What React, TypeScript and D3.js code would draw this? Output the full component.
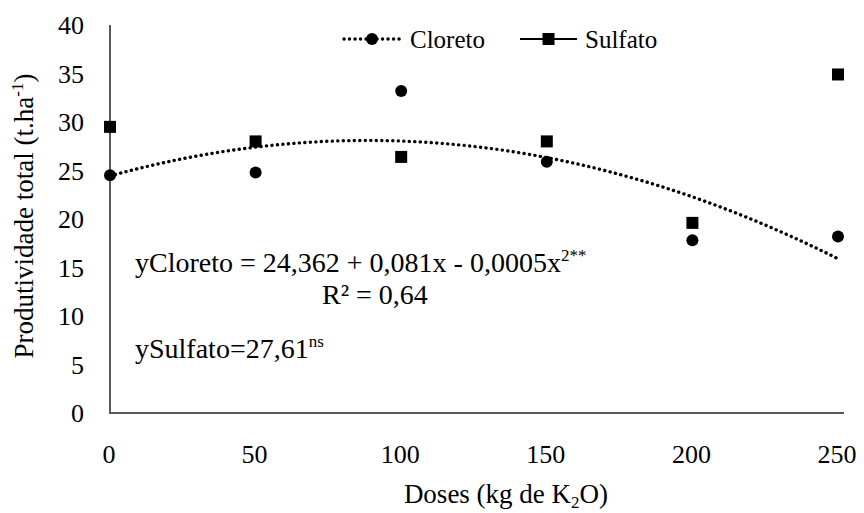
import React, { useEffect, useRef } from 'react'
import * as d3 from 'd3'

const doses = [0, 50, 100, 150, 200, 250]
const cloreto = [24.5, 24.8, 33.2, 25.9, 17.8, 18.2]
const sulfato = [29.5, 28.0, 26.4, 28.0, 19.6, 34.9]
const yTicks = [0, 5, 10, 15, 20, 25, 30, 35, 40]

const width = 864
const height = 513
const margin = { top: 25, right: 26, bottom: 100, left: 110 }
const font = '"Liberation Serif", "Times New Roman", Times, serif'

// least squares quadratic fit (same as the excel trendline)
const quadFit = (xs: number[], ys: number[]) => {
    const s = (f: (x: number, y: number) => number) => d3.sum(xs, (x, i) => f(x, ys[i]))
    const n = xs.length
    const sx = s(x => x), sx2 = s(x => x * x), sx3 = s(x => x ** 3), sx4 = s(x => x ** 4)
    const sy = s((x, y) => y), sxy = s((x, y) => x * y), sx2y = s((x, y) => x * x * y)
    const m = [
        [n, sx, sx2, sy],
        [sx, sx2, sx3, sxy],
        [sx2, sx3, sx4, sx2y]
    ]
    for (let i = 0; i < 3; i++) {
        for (let k = i + 1; k < 3; k++) {
            const f = m[k][i] / m[i][i]
            for (let j = i; j < 4; j++) m[k][j] -= f * m[i][j]
        }
    }
    const c = m[2][3] / m[2][2]
    const b = (m[1][3] - m[1][2] * c) / m[1][1]
    const a = (m[0][3] - m[0][1] * b - m[0][2] * c) / m[0][0]
    return (x: number) => a + b * x + c * x * x
}

export default function App() {
    const svgNode = useRef<SVGSVGElement>(null)

    useEffect(() => {
        const svg = d3.select(svgNode.current)
        svg.selectAll('*').remove()

        const x = d3.scaleLinear().domain([0, 250]).range([margin.left, width - margin.right])
        const y = d3.scaleLinear().domain([0, 40]).range([height - margin.bottom, margin.top])

        const axisColor = '#595959'
        // axes lines
        svg.append('line')
            .attr('x1', x(0)).attr('x2', x(0))
            .attr('y1', y(40)).attr('y2', y(0))
            .attr('stroke', axisColor).attr('stroke-width', 2)
        svg.append('line')
            .attr('x1', x(0) - 1).attr('x2', x(250) + 6)
            .attr('y1', y(0)).attr('y2', y(0))
            .attr('stroke', axisColor).attr('stroke-width', 2)

        svg.selectAll('.ytick')
            .data(yTicks)
            .join('text')
            .attr('class', 'ytick')
            .attr('x', 84)
            .attr('y', d => y(d))
            .attr('dy', '0.36em')
            .attr('text-anchor', 'end')
            .attr('font-size', 26)
            .text(d => d)

        svg.selectAll('.xtick')
            .data(doses)
            .join('text')
            .attr('class', 'xtick')
            .attr('x', d => x(d) - 1)
            .attr('y', 463)
            .attr('text-anchor', 'middle')
            .attr('font-size', 26)
            .text(d => d)

        // axis titles
        const xt = svg.append('text')
            .attr('x', 506)
            .attr('y', 503)
            .attr('text-anchor', 'middle')
            .attr('font-size', 27)
        xt.append('tspan').text('Doses (kg  de K')
        xt.append('tspan').attr('font-size', 17).attr('dy', 5).text('2')
        xt.append('tspan').attr('dy', -5).text('O)')

        const yt = svg.append('text')
            .attr('transform', `translate(33, 216) rotate(-90)`)
            .attr('text-anchor', 'middle')
            .attr('font-size', 27)
        yt.append('tspan').text('Produtividade total (t.ha')
        yt.append('tspan').attr('font-size', 17).attr('dy', -10).text('-1')
        yt.append('tspan').attr('dy', 10).text(')')

        // trendline
        const fit = quadFit(doses, cloreto)
        const curve = d3.range(0, 250.01, 2.5)
        svg.append('path')
            .datum(curve)
            .attr('fill', 'none')
            .attr('stroke', '#000')
            .attr('stroke-width', 3.4)
            .attr('stroke-linecap', 'round')
            .attr('stroke-dasharray', '0.1,5.4')
            .attr('d', d3.line<number>().x(d => x(d)).y(d => y(fit(d))))

        // points
        svg.selectAll('.sq')
            .data(sulfato)
            .join('rect')
            .attr('class', 'sq')
            .attr('x', (d, i) => x(doses[i]) - 6)
            .attr('y', d => y(d) - 6)
            .attr('width', 12)
            .attr('height', 12)
            .attr('fill', '#000')
        svg.selectAll('.dot')
            .data(cloreto)
            .join('circle')
            .attr('class', 'dot')
            .attr('cx', (d, i) => x(doses[i]))
            .attr('cy', d => y(d))
            .attr('r', 6)
            .attr('fill', '#000')

        // legend
        const ly = 39
        svg.append('line')
            .attr('x1', 344).attr('x2', 401).attr('y1', ly).attr('y2', ly)
            .attr('stroke', '#000').attr('stroke-width', 3.4)
            .attr('stroke-linecap', 'round').attr('stroke-dasharray', '0.1,5.4')
        svg.append('circle').attr('cx', 372).attr('cy', ly).attr('r', 6).attr('fill', '#000')
        svg.append('text')
            .attr('x', 410).attr('y', ly).attr('dy', '0.36em')
            .attr('font-size', 25)
            .text('Cloreto')
        svg.append('line')
            .attr('x1', 520).attr('x2', 577).attr('y1', ly).attr('y2', ly)
            .attr('stroke', '#000').attr('stroke-width', 2)
        svg.append('rect').attr('x', 542.5).attr('y', ly - 6).attr('width', 12).attr('height', 12).attr('fill', '#000')
        svg.append('text')
            .attr('x', 585).attr('y', ly).attr('dy', '0.36em')
            .attr('font-size', 25)
            .text('Sulfato')

        // equations
        const eq = svg.append('text')
            .attr('x', 135).attr('y', 272)
            .attr('font-size', 28)
        eq.append('tspan').text('yCloreto = 24,362 + 0,081x - 0,0005x')
        eq.append('tspan').attr('font-size', 17).attr('dy', -11).text('2**')
        svg.append('text')
            .attr('x', 322).attr('y', 304)
            .attr('font-size', 28)
            .text('R² = 0,64')
        const eq2 = svg.append('text')
            .attr('x', 135).attr('y', 358)
            .attr('font-size', 28)
        eq2.append('tspan').text('ySulfato=27,61')
        eq2.append('tspan').attr('font-size', 17).attr('dy', -11).text('ns')
    }, [])

    return (
        <svg ref={svgNode} width={width} height={height} style={{ position: 'absolute', left: 0, top: 0, background: '#fff', fontFamily: font }} />
    )
}
